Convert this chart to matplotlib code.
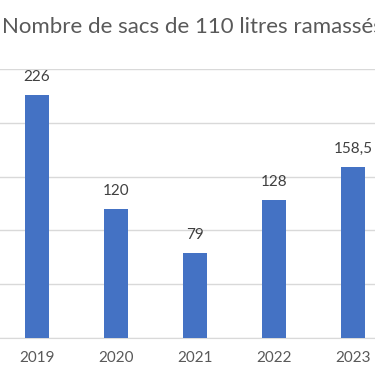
import matplotlib.pyplot as plt

plt.rcParams['font.family'] = ['Lato', 'DejaVu Sans']

years = ["2019", "2020", "2021", "2022", "2023"]
sacs = [226, 120, 79, 128, 158.5]
labels = ["226", "120", "79", "128", "158,5"]

bar_color = "#4472C4"
text_color = "#595959"
grid_color = "#D9D9D9"

fig = plt.figure(figsize=(3.75, 3.66), dpi=100)
ax = fig.add_axes([0, 0.0765, 1, 0.735])

x = range(len(years))
bars = ax.bar(x, sacs, width=0.31, color=bar_color, zorder=3)

for b, lab in zip(bars, labels):
    ax.annotate(lab, (b.get_x() + b.get_width() / 2, b.get_height()),
                xytext=(0, 8), textcoords="offset points",
                ha="center", va="bottom", fontsize=11, color="#404040")

ax.set_xlim(-0.468, 4.278)
ax.set_ylim(0, 250)
ax.set_yticks([0, 50, 100, 150, 200, 250])
ax.yaxis.grid(True, color=grid_color, linewidth=1, zorder=0)
ax.set_yticklabels([])
ax.tick_params(axis="y", length=0)
ax.set_xticks(list(x))
ax.set_xticklabels(years, fontsize=11, color=text_color)
ax.tick_params(axis="x", length=0, pad=9)
for s in ["top", "right", "left"]:
    ax.spines[s].set_visible(False)
ax.spines["bottom"].set_color(grid_color)

fig.text(0.512, 1 - 27 / 366, "Nombre de sacs de 110 litres ramassés",
         ha="center", va="center", fontsize=16, color=text_color)

fig.savefig("out.png", dpi=100)
